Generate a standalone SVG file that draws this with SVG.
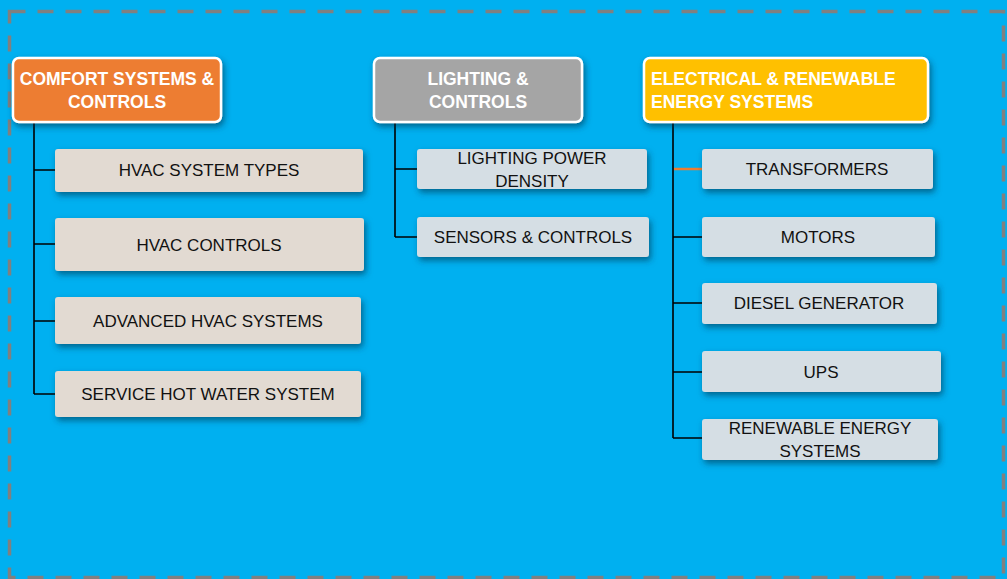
<svg xmlns="http://www.w3.org/2000/svg" width="1007" height="579" viewBox="0 0 1007 579">
<defs>
<filter id="sh" x="-10%" y="-30%" width="125%" height="180%">
<feDropShadow dx="2" dy="3.5" stdDeviation="3" flood-color="#00324d" flood-opacity="0.6"/>
</filter>
<style>
.hdr{stroke:#fff;stroke-width:2.5;filter:url(#sh)}
.ht{font-family:"Liberation Sans",Arial,sans-serif;font-weight:bold;font-size:17.5px;fill:#fff}
.c1{fill:#E2DAD2;filter:url(#sh)}
.c2{fill:#D5DEE4;filter:url(#sh)}
.ct{font-family:"Liberation Sans",Arial,sans-serif;font-size:17px;fill:#111;text-anchor:middle}
.ln{stroke:#000;stroke-width:1.6;fill:none}
</style>
</defs>
<rect x="0" y="0" width="1007" height="579" fill="#00B0F0"/>
<rect x="9.5" y="11.5" width="994" height="566" fill="none" stroke="#808080" stroke-width="3.5" stroke-dasharray="16 12"/>

<g id="connectors">
<path class="ln" d="M34 122 V394 M34 170 H55 M34 244 H55 M34 321 H55 M34 394 H55"/>
<path class="ln" d="M395 122 V237 M395 169 H417 M395 237 H417"/>
<path class="ln" d="M673 122 V438 M673 237 H702 M673 303 H702 M673 372 H702 M673 438 H702"/>
<path d="M674 169 H702" stroke="#ED7D31" stroke-width="2.5" fill="none"/>
</g>

<g id="comfort">
<rect class="hdr" x="13" y="58" width="208" height="64" rx="6" fill="#ED7D31"/>
<text class="ht" text-anchor="middle"><tspan x="117" y="85">COMFORT SYSTEMS &amp;</tspan><tspan x="117" y="108">CONTROLS</tspan></text>
</g>
<g id="lighting">
<rect class="hdr" x="374" y="58" width="208" height="64" rx="6" fill="#A5A5A5"/>
<text class="ht" text-anchor="middle"><tspan x="478" y="85">LIGHTING &amp;</tspan><tspan x="478" y="108">CONTROLS</tspan></text>
</g>
<g id="electrical">
<rect class="hdr" x="644" y="58" width="284" height="64" rx="6" fill="#FFC000"/>
<text class="ht"><tspan x="651" y="85">ELECTRICAL &amp; RENEWABLE</tspan><tspan x="651" y="108">ENERGY SYSTEMS</tspan></text>
</g>

<g id="hvac-types"><rect class="c1" x="55" y="149" width="308" height="43" rx="3"/><text class="ct" x="209" y="176">HVAC SYSTEM TYPES</text></g>
<g id="hvac-controls"><rect class="c1" x="55" y="218" width="309" height="53" rx="3"/><text class="ct" x="209" y="251">HVAC CONTROLS</text></g>
<g id="advanced-hvac"><rect class="c1" x="55" y="297" width="306" height="47" rx="3"/><text class="ct" x="208" y="327">ADVANCED HVAC SYSTEMS</text></g>
<g id="service-hot-water"><rect class="c1" x="55" y="371" width="306" height="46" rx="3"/><text class="ct" x="208" y="400">SERVICE HOT WATER SYSTEM</text></g>

<g id="lpd"><rect class="c2" x="417" y="149" width="230" height="40" rx="3"/><text class="ct"><tspan x="532" y="164">LIGHTING POWER</tspan><tspan x="532" y="187">DENSITY</tspan></text></g>
<g id="sensors"><rect class="c2" x="417" y="217" width="232" height="40" rx="3"/><text class="ct" x="533" y="243">SENSORS &amp; CONTROLS</text></g>

<g id="transformers"><rect class="c2" x="702" y="149" width="231" height="40" rx="3"/><text class="ct" x="817" y="175">TRANSFORMERS</text></g>
<g id="motors"><rect class="c2" x="702" y="217" width="233" height="40" rx="3"/><text class="ct" x="818" y="243">MOTORS</text></g>
<g id="diesel"><rect class="c2" x="702" y="283" width="235" height="41" rx="3"/><text class="ct" x="819" y="309">DIESEL GENERATOR</text></g>
<g id="ups"><rect class="c2" x="702" y="351" width="239" height="41" rx="3"/><text class="ct" x="821" y="378">UPS</text></g>
<g id="renewable"><rect class="c2" x="702" y="419" width="236" height="41" rx="3"/><text class="ct"><tspan x="820" y="434">RENEWABLE ENERGY</tspan><tspan x="820" y="457">SYSTEMS</tspan></text></g>
</svg>
